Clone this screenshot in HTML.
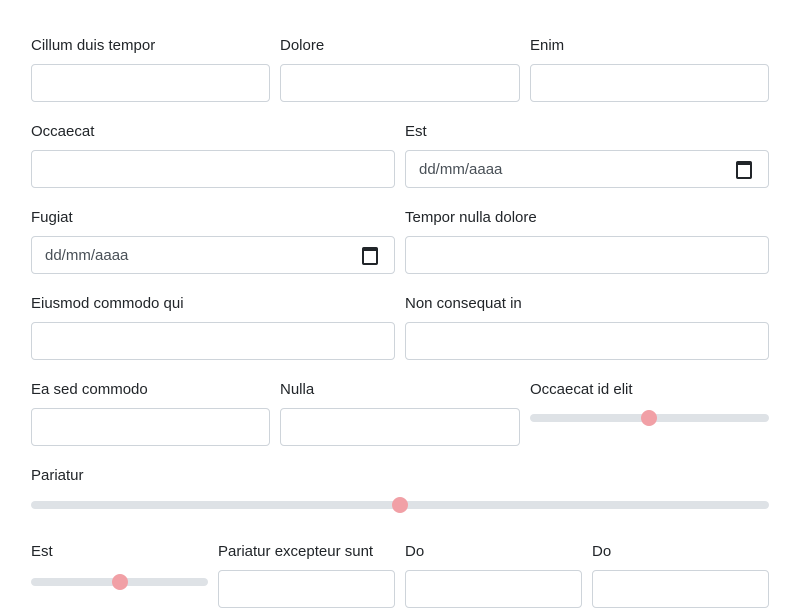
<!DOCTYPE html>
<html><head><style>
body{margin:0;width:800px;height:600px;overflow:hidden;background:#fff;font-family:"Liberation Sans",sans-serif;color:#212529;position:relative}
.l{position:absolute;font-size:15px;line-height:18px}
.i{position:absolute;height:36px;border:1px solid #ced4da;border-radius:4px;background:#fff;box-sizing:content-box}
.d{font-size:15px;color:#495057;line-height:38px;padding-left:13px}
.cal{position:absolute;right:16px;top:10px;width:12px;height:12px;border:2px solid #212529;border-top-width:4px;border-radius:2px}
.t{position:absolute;height:8px;background:#dee2e6;border-radius:4px}
.th{position:absolute;width:16px;height:16px;border-radius:50%;background:#f1a0a6;top:-4px}
</style></head><body>
<div class="l" style="left:31px;top:37px">Cillum duis tempor</div>
<div class="l" style="left:280px;top:37px">Dolore</div>
<div class="l" style="left:530px;top:37px">Enim</div>
<div class="i" style="left:31px;top:64px;width:237px"></div>
<div class="i" style="left:280px;top:64px;width:238px"></div>
<div class="i" style="left:530px;top:64px;width:237px"></div>

<div class="l" style="left:31px;top:123px">Occaecat</div>
<div class="l" style="left:405px;top:123px">Est</div>
<div class="i" style="left:31px;top:150px;width:362px"></div>
<div class="i d" style="left:405px;top:150px;width:349px">dd/mm/aaaa<div class="cal"></div></div>

<div class="l" style="left:31px;top:209px">Fugiat</div>
<div class="l" style="left:405px;top:209px">Tempor nulla dolore</div>
<div class="i d" style="left:31px;top:236px;width:349px">dd/mm/aaaa<div class="cal"></div></div>
<div class="i" style="left:405px;top:236px;width:362px"></div>

<div class="l" style="left:31px;top:295px">Eiusmod commodo qui</div>
<div class="l" style="left:405px;top:295px">Non consequat in</div>
<div class="i" style="left:31px;top:322px;width:362px"></div>
<div class="i" style="left:405px;top:322px;width:362px"></div>

<div class="l" style="left:31px;top:381px">Ea sed commodo</div>
<div class="l" style="left:280px;top:381px">Nulla</div>
<div class="l" style="left:530px;top:381px">Occaecat id elit</div>
<div class="i" style="left:31px;top:408px;width:237px"></div>
<div class="i" style="left:280px;top:408px;width:238px"></div>
<div class="t" style="left:530px;top:414px;width:239px"><div class="th" style="left:111px"></div></div>

<div class="l" style="left:31px;top:467px">Pariatur</div>
<div class="t" style="left:31px;top:501px;width:738px"><div class="th" style="left:361px"></div></div>

<div class="l" style="left:31px;top:543px">Est</div>
<div class="l" style="left:218px;top:543px">Pariatur excepteur sunt</div>
<div class="l" style="left:405px;top:543px">Do</div>
<div class="l" style="left:592px;top:543px">Do</div>
<div class="t" style="left:31px;top:578px;width:177px"><div class="th" style="left:81px"></div></div>
<div class="i" style="left:218px;top:570px;width:175px"></div>
<div class="i" style="left:405px;top:570px;width:175px"></div>
<div class="i" style="left:592px;top:570px;width:175px"></div>
</body></html>
